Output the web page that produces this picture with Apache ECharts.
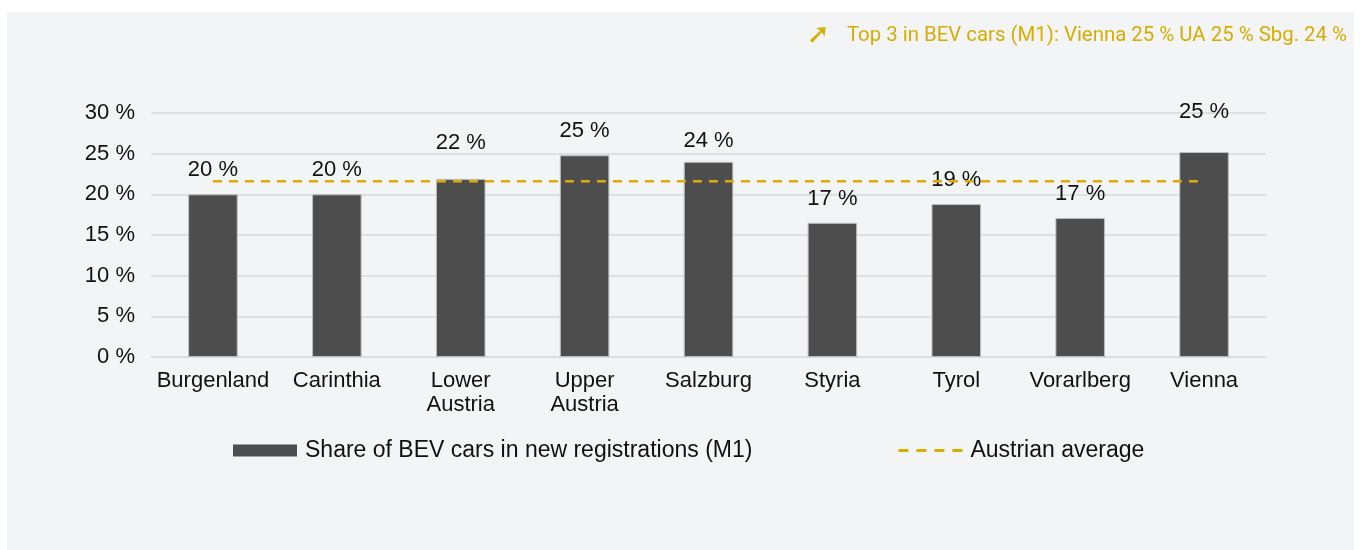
<!DOCTYPE html>
<html>
<head>
<meta charset="utf-8">
<script src="https://cdn.jsdelivr.net/npm/echarts@6/dist/echarts.min.js"></script>
<style>
  html, body { margin: 0; padding: 0; background: #ffffff; }
  #chart { width: 1362px; height: 550px; }
</style>
</head>
<body>
<div id="chart"></div>
<script>
// ---- data ----
const categories = ['Burgenland', 'Carinthia', 'Lower\nAustria', 'Upper\nAustria', 'Salzburg', 'Styria', 'Tyrol', 'Vorarlberg', 'Vienna'];
const bevShare = [20.0, 20.0, 21.9, 24.8, 24.0, 16.5, 18.8, 17.1, 25.2];
const barLabels = ['20 %', '20 %', '22 %', '25 %', '24 %', '17 %', '19 %', '17 %', '25 %'];
const austrianAverage = [21.6, 21.6, 21.6, 21.6, 21.6, 21.6, 21.6, 21.6, 21.6];
const yTicks = [0, 5, 10, 15, 20, 25, 30];
const seriesNames = ['Share of BEV cars in new registrations (M1)', 'Austrian average'];
const headline = 'Top 3 in BEV cars (M1): Vienna 25 % UA 25 % Sbg. 24 %';

// label lift tweaks (styling, not data)
const labelLift = { 'Lower\nAustria': 12, 'Vienna': 16, 'Salzburg': -3 };

const GOLD = '#d9ad00';
const FONT = '"Liberation Sans", Arial, sans-serif';
const DASH_ICON = 'path://M0,0L0.01,0L0.01,0.01Z M0,12L0.01,12L0.01,11.99Z M0,4.6h10v2.8h-10z M18,4.6h10v2.8h-10z M36,4.6h10v2.8h-10z M54,4.6h10v2.8h-10z';

const chart = echarts.init(document.getElementById('chart'), null, { renderer: 'canvas' });

const barData = bevShare.map((v, i) => ({
  value: v,
  label: { distance: 13 + (labelLift[categories[i]] || 0), formatter: barLabels[i] }
}));

chart.setOption({
  backgroundColor: '#ffffff',
  animation: false,
  graphic: [{
    type: 'rect', z: -10, silent: true,
    shape: { x: 7, y: 12, width: 1347, height: 540 },
    style: { fill: '#f3f4f6' }
  }],
  title: {
    text: '{a|➚}{b|' + headline + '}',
    right: 10, top: 17,
    textStyle: {
      rich: {
        a: { color: GOLD, fontSize: 28, fontWeight: 'bold', fontFamily: '"DejaVu Sans"', padding: [0, 17, 0, 0] },
        b: { color: GOLD, fontSize: 20.4, fontWeight: 'normal', fontFamily: 'Roboto, sans-serif' }
      }
    }
  },
  grid: { left: 151, right: 96, top: 113, bottom: 193, containLabel: false },
  legend: {
    left: 233, top: 439, padding: 0,
    itemWidth: 64, itemHeight: 12, itemGap: 146,
    textStyle: { fontFamily: FONT, fontSize: 23, color: '#111', padding: [0, 0, 0, 3] },
    data: [
      { name: seriesNames[0], icon: 'rect', itemStyle: { color: '#4d4d4d', borderWidth: 0 } },
      { name: seriesNames[1], icon: DASH_ICON, itemStyle: { color: GOLD } }
    ]
  },
  xAxis: {
    type: 'category',
    data: categories,
    axisLine: { show: true, lineStyle: { color: '#d9d9d9', width: 1 } },
    axisTick: { show: false },
    axisLabel: { fontFamily: FONT, fontSize: 22, color: '#111', margin: 12, lineHeight: 24, interval: 0 }
  },
  yAxis: {
    type: 'value', min: 0, max: 30, interval: 5,
    axisLine: { show: false }, axisTick: { show: false },
    splitLine: { lineStyle: { color: '#d9d9d9', width: 1.5 } },
    axisLabel: {
      fontFamily: FONT, fontSize: 22, color: '#111', margin: 16,
      formatter: v => yTicks.includes(v) ? v + ' %' : ''
    }
  },
  series: [
    {
      name: seriesNames[0], type: 'bar', barWidth: '40%',
      data: barData,
      itemStyle: { color: '#4d4d4d', borderColor: '#bdbdbd', borderWidth: 1 },
      label: { show: true, position: 'top', fontFamily: FONT, fontSize: 22, color: '#111' },
      z: 2
    },
    {
      name: seriesNames[1], type: 'line', symbol: 'none',
      data: austrianAverage,
      lineStyle: { color: GOLD, width: 2.5, type: [9, 7] },
      itemStyle: { color: GOLD },
      z: 3
    }
  ]
});
</script>
</body>
</html>
